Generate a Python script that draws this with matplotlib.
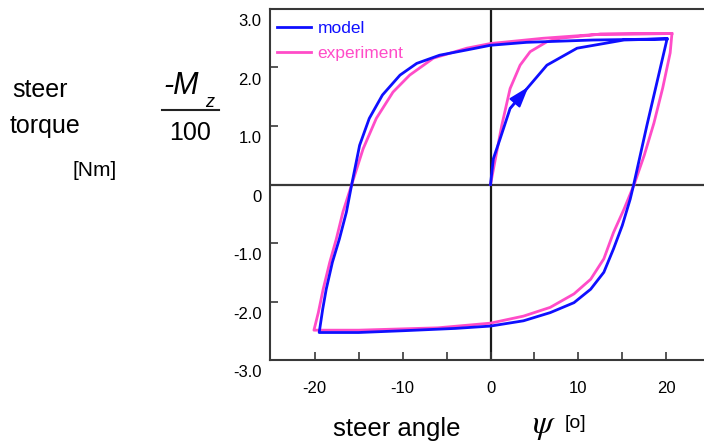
import numpy as np
import matplotlib.pyplot as plt
from matplotlib.transforms import ScaledTranslation
from matplotlib.lines import Line2D

plt.rcParams['font.family'] = ['Liberation Sans', 'DejaVu Sans']

# steer angle psi [deg] vs. -Mz/100 [Nm]
# first loading from rest (virgin curve)
model_virgin_x = [0.0, 0.32, 1.09, 2.23, 4.32, 6.42, 9.85, 15.2, 20.1]
model_virgin_y = [0.0, 0.44, 0.78, 1.30, 1.67, 2.04, 2.33, 2.47, 2.49]
exp_virgin_x = [0.0, 0.71, 1.28, 2.23, 3.37, 4.51, 6.42, 7.94, 12.5, 20.65]
exp_virgin_y = [0.0, 0.56, 1.01, 1.64, 2.04, 2.27, 2.44, 2.50, 2.57, 2.58]

# full hysteresis loop, starting at the upper right corner
model_loop_x = [20.1, 17.8, 16.3, 15.9, 15.0, 14.0, 12.9, 11.4, 9.5, 6.8, 3.75,
                0.0, -4.0, -10.0, -15.0, -19.5, -19.1, -18.7, -18.0, -17.2,
                -16.4, -15.8, -14.9, -13.8, -12.3, -10.3, -8.4, -5.8, -2.7,
                0.0, 4.1, 11.7, 16.3, 20.1]
model_loop_y = [2.49, 1.01, 0.0, -0.25, -0.70, -1.10, -1.50, -1.79, -2.02,
                -2.19, -2.33, -2.42, -2.46, -2.50, -2.53, -2.53, -2.13, -1.79,
                -1.33, -0.93, -0.47, 0.0, 0.67, 1.13, 1.53, 1.87, 2.07, 2.21,
                2.30, 2.38, 2.43, 2.47, 2.48, 2.49]
exp_loop_x = [20.65, 20.45, 19.6, 18.6, 17.5, 16.35, 15.2, 14.0, 12.9, 11.4,
              9.5, 6.8, 3.75, 0.0, -6.0, -15.0, -20.1, -19.6, -19.05, -18.3,
              -17.55, -16.8, -15.8, -14.5, -13.0, -11.1, -9.2, -6.5, -2.7,
              0.0, 6.0, 12.5, 20.65]
exp_loop_y = [2.58, 2.25, 1.65, 1.05, 0.5, 0.0, -0.42, -0.82, -1.27, -1.62,
              -1.87, -2.10, -2.25, -2.37, -2.45, -2.49, -2.49, -2.19, -1.79,
              -1.33, -0.93, -0.47, 0.0, 0.61, 1.13, 1.58, 1.87, 2.16, 2.33,
              2.41, 2.50, 2.57, 2.58]

x_ticks = [-20, -10, 0, 10, 20]
x_tick_labels = ['-20', '-10', '0', '10', '20']
x_minor = [-15, -5, 5, 15]
y_ticks = [-3, -2, -1, 0, 1, 2, 3]
y_tick_labels = ['-3.0', '-2.0', '-1.0', '0', '1.0', '2.0', '3.0']

blue = '#0f0fff'
pink = '#ff4cc8'
axis_col = '#383838'

fig = plt.figure(figsize=(7.04, 4.44), dpi=100)
W, H = 704, 444
ax = fig.add_axes([270 / W, 1 - 360 / H, 434 / W, 351 / H])

exp_line, = ax.plot(exp_virgin_x + exp_loop_x, exp_virgin_y + exp_loop_y,
                    color=pink, lw=2, zorder=3, label='experiment')
model_line, = ax.plot(model_virgin_x + model_loop_x,
                      model_virgin_y + model_loop_y,
                      color=blue, lw=2, zorder=4, label='model')

# direction of the first loading
ax.annotate('', xy=(model_virgin_x[4], model_virgin_y[4]),
            xytext=(model_virgin_x[3], model_virgin_y[3]),
            arrowprops=dict(arrowstyle='-|>,head_length=0.9,head_width=0.3',
                            color=blue, lw=1.5, shrinkA=0, shrinkB=0,
                            mutation_scale=14), zorder=5)

ax.axhline(0, color=axis_col, lw=1.6, zorder=1)
ax.axvline(0, color='#1a1a1a', lw=1.6, zorder=1)

ax.set_xlim(-25.1, 24.3)
ax.set_ylim(-3, 3)
ax.set_xticks(x_ticks)
ax.set_xticklabels(x_tick_labels)
ax.set_xticks(x_minor, minor=True)
ax.set_yticks(y_ticks)
ax.set_yticklabels(y_tick_labels)
ax.tick_params(which='both', direction='in', length=5.5, width=1.2,
               color=axis_col)
ax.tick_params(axis='x', pad=15, labelsize=12)
ax.tick_params(axis='y', pad=6, labelsize=12)

for side in ['left', 'top', 'bottom']:
    ax.spines[side].set_linewidth(1.5)
    ax.spines[side].set_color(axis_col)
ax.spines['right'].set_visible(False)

# y labels sit a little below their ticks
shift = ScaledTranslation(0, -8 / 72, fig.dpi_scale_trans)
for tick in ax.yaxis.get_major_ticks():
    tick.label1.set_transform(tick.label1.get_transform() + shift)

leg = ax.legend(handles=[model_line, exp_line], loc='upper left',
                bbox_to_anchor=(0.015, 0.965), frameon=False,
                borderaxespad=0, borderpad=0, handlelength=2.0,
                handletextpad=0.35, labelspacing=0.55, fontsize=12.5,
                labelcolor='linecolor')

# left side quantity label
def px(x, y):
    return x / W, 1 - y / H

fig.text(*px(12, 97), 'steer', fontsize=18, va='baseline')
fig.text(*px(10, 133), 'torque', fontsize=18, va='baseline')
fig.text(*px(73, 176), '[Nm]', fontsize=15, va='baseline')

fig.text(*px(163, 94), '-M', fontsize=22, style='italic', va='baseline')
fig.text(*px(205, 107), 'z', fontsize=13, style='italic', va='baseline')
fig.add_artist(Line2D([162 / W, 219 / W], [1 - 110 / H, 1 - 110 / H],
                      color='#222222', lw=1.5))
fig.text(*px(169, 140), '100', fontsize=18, va='baseline')

# bottom axis label
fig.text(*px(333, 436), 'steer angle', fontsize=18.5, va='baseline')
fig.text(*px(532, 433), r'$\psi$', fontsize=24, va='baseline',
         math_fontfamily='stix')
fig.text(*px(565, 428), '[o]', fontsize=14, va='baseline')

fig.savefig('out.png', dpi=100)
